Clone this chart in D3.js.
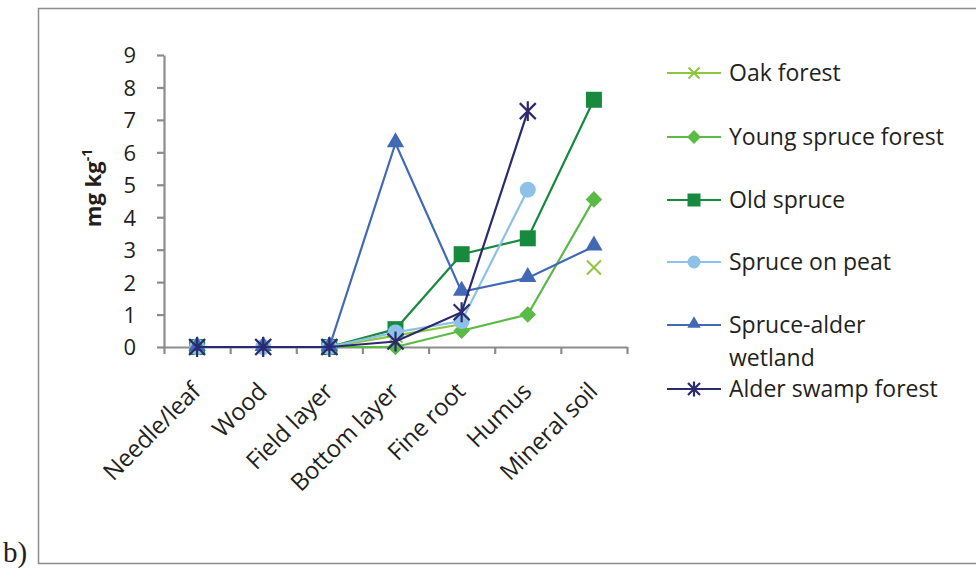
<!DOCTYPE html>
<html><head><meta charset="utf-8">
<script src="https://cdn.jsdelivr.net/npm/d3@7"></script>
<style>body{margin:0;background:#fff}svg{display:block}text{font-family:"Open Sans",sans-serif;fill:#231f20}</style>
</head><body>
<svg id="c" width="976" height="568"></svg>
<script>
const categories = ["Needle/leaf","Wood","Field layer","Bottom layer","Fine root","Humus","Mineral soil"];
const seriesNames = ["Oak forest","Young spruce forest","Old spruce","Spruce on peat","Spruce-alder wetland","Alder swamp  forest"];
const oakForest        = [0, 0, 0, 0.35, 0.7, null, 2.45];
const youngSpruce      = [0, 0, 0, 0, 0.5, 1.0, 4.55];
const oldSpruce        = [0, null, 0, 0.55, 2.86, 3.35, 7.62];
const spruceOnPeat     = [0, 0, 0, 0.45, 0.8, 4.85, null];
const spruceAlder      = [0, 0, 0, 6.28, 1.7, 2.13, 3.1];
const alderSwamp       = [0, 0, 0, 0.17, 1.07, 7.27, null];
const yTicks = [0,1,2,3,4,5,6,7,8,9];

const colors = ["#8dc63f","#5bb946","#178a3e","#8ec1e8","#4169b5","#2b2a6e"];
const markers = ["x","diamond","square","circle","triangle","asterisk"];
const values = [oakForest,youngSpruce,oldSpruce,spruceOnPeat,spruceAlder,alderSwamp];
const FONT = "'Open Sans',sans-serif";

const svg = d3.select("#c");
const L = 164, R = 627, T = 55, B = 347;
const x = d3.scaleBand().domain(categories).range([L,R]);
const xb = d3.scaleLinear().domain([0,7]).range([L,R]);
const y = d3.scaleLinear().domain([0,9]).range([B,T]);

// frame
svg.append("path").attr("d",`M976,8.5H38.5V563.5H976`).attr("fill","none").attr("stroke","#8c8c8c").attr("stroke-width",1.5);
svg.append("text").attr("x",3).attr("y",562).style("font-family","'Liberation Serif','Times New Roman',serif").style("font-size","29px").text("b)");

// y axis
const ya = svg.append("g").attr("transform",`translate(${L},0)`)
  .call(d3.axisLeft(y).tickValues(yTicks).tickSize(7).tickPadding(21).tickSizeOuter(0));
ya.select(".domain").attr("stroke","#8c8c8c").attr("stroke-width",2.2);
ya.selectAll(".tick line").attr("stroke","#8c8c8c").attr("stroke-width",2.2);
ya.selectAll(".tick text").style("font-size","22px").style("font-family",FONT).attr("fill","#231f20").attr("dy","0.36em");

// x axis boundary ticks
const xa = svg.append("g").attr("transform",`translate(0,${B})`)
  .call(d3.axisBottom(xb).tickValues(d3.range(0,8)).tickSize(7).tickFormat("").tickSizeOuter(0));
xa.select(".domain").attr("stroke","#8c8c8c").attr("stroke-width",2.2);
xa.selectAll(".tick line").attr("stroke","#8c8c8c").attr("stroke-width",2.2);

// x labels
const xl = svg.append("g").attr("transform",`translate(0,${B})`)
  .call(d3.axisBottom(x).tickSize(0).tickPadding(0));
xl.select(".domain").remove();
xl.selectAll(".tick text")
  .style("font-size","24px").style("font-family",FONT).style("letter-spacing","-0.3px").attr("fill","#231f20")
  .attr("text-anchor","end").attr("y",0).attr("dy",0)
  .attr("transform","translate(5,46) rotate(-45)");

// y title
svg.append("text").attr("transform","translate(101,188) rotate(-90)").attr("text-anchor","middle")
  .style("font-size","22px").style("font-weight","bold").style("font-family",FONT)
  .html('mg kg<tspan dy="-9" font-size="14">-1</tspan>');

function drawMarker(g, type, color, size){
  const s = size;
  if(type==="x"){
    g.append("path").attr("d",`M${-s/2},${-s/2}L${s/2},${s/2}M${-s/2},${s/2}L${s/2},${-s/2}`).attr("stroke",color).attr("stroke-width",2).attr("fill","none");
  } else if(type==="asterisk"){
    g.append("path").attr("d",`M${-s/2},${-s/2}L${s/2},${s/2}M${-s/2},${s/2}L${s/2},${-s/2}M0,${-s*0.62}V${s*0.62}`).attr("stroke",color).attr("stroke-width",2.2).attr("fill","none");
  } else {
    const sym = {square:d3.symbolSquare, circle:d3.symbolCircle, triangle:d3.symbolTriangle, diamond:d3.symbolSquare}[type];
    let area = {diamond:s*s*0.95, square:s*s, circle:Math.PI*s*s/4, triangle:s*s*0.45}[type];
    let path = d3.symbol().type(sym).size(area)();
    const p = g.append("path").attr("d",path).attr("fill",color);
    if(type==="diamond") p.attr("transform","rotate(45)");
    if(type==="triangle") p.attr("transform","translate(0,-1)");
  }
}
const sizes = [14,12,16,16,17,16];

values.forEach((vals,i)=>{
  const pts = vals.map((v,j)=>({c:categories[j],v}));
  const line = d3.line().defined(d=>d.v!==null).x(d=>x(d.c)+x.bandwidth()/2).y(d=>y(d.v));
  svg.append("path").datum(pts).attr("d",line).attr("fill","none").attr("stroke",colors[i]).attr("stroke-width",2.2);
  pts.filter(d=>d.v!==null).forEach(d=>{
    const g = svg.append("g").attr("transform",`translate(${x(d.c)+x.bandwidth()/2},${y(d.v)})`);
    drawMarker(g, markers[i], colors[i], sizes[i]);
  });
});

// legend
const legY = [73,137,200,262,325,389];
const lg = svg.append("g");
seriesNames.forEach((n,i)=>{
  const g = lg.append("g").attr("transform",`translate(0,${legY[i]})`);
  g.append("line").attr("x1",667).attr("x2",721).attr("stroke",colors[i]).attr("stroke-width",2.2);
  const mg = g.append("g").attr("transform","translate(694,0)");
  drawMarker(mg, markers[i], colors[i], [11,10,13,13,13,12][i]);
  const t = g.append("text").attr("x",729).attr("dy","0.36em").style("font-size","23px").style("font-family",FONT);
  if(n==="Spruce-alder wetland"){
    t.text("Spruce-alder");
    g.append("text").attr("x",729).attr("y",33).attr("dy","0.36em").style("font-size","23px").style("font-family",FONT).text("wetland");
  } else t.text(n);
});
</script>
</body></html>
